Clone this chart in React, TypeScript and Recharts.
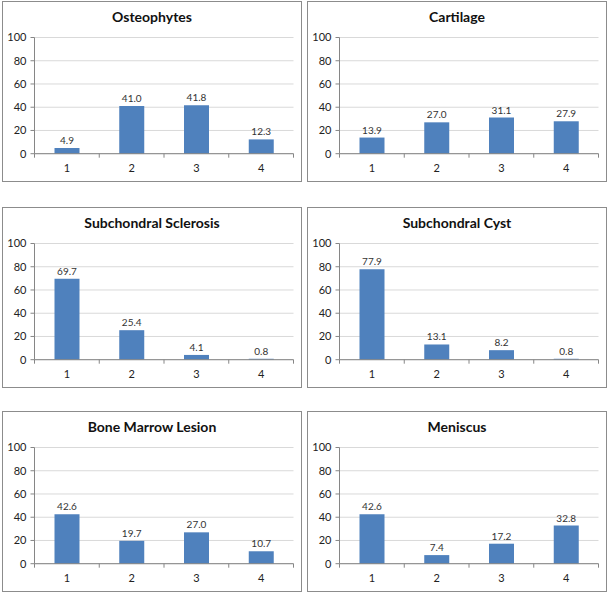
import React from 'react';
import { BarChart, Bar, XAxis, YAxis, CartesianGrid, LabelList } from 'recharts';

const categories = ['1', '2', '3', '4'];
const yTicks = [0, 20, 40, 60, 80, 100];

const osteophytes = [4.9, 41.0, 41.8, 12.3];
const cartilage = [13.9, 27.0, 31.1, 27.9];
const subchondralSclerosis = [69.7, 25.4, 4.1, 0.8];
const subchondralCyst = [77.9, 13.1, 8.2, 0.8];
const boneMarrowLesion = [42.6, 19.7, 27.0, 10.7];
const meniscus = [42.6, 7.4, 17.2, 32.8];

const titles = ['Osteophytes', 'Cartilage', 'Subchondral Sclerosis', 'Subchondral Cyst', 'Bone Marrow Lesion', 'Meniscus'];
const seriesList = [osteophytes, cartilage, subchondralSclerosis, subchondralCyst, boneMarrowLesion, meniscus];

const PANEL_W = 300;
const PANEL_H = 181;
const colLeft = [2, 307];
const rowTop = [1, 207, 411];
const M_LEFT = 32.5;
const M_RIGHT = 8.5;
const M_TOP = 36.5;
const M_BOTTOM = 28.3;
const PLOT_W = PANEL_W - M_LEFT - M_RIGHT;
const BAND = PLOT_W / categories.length;
const FONT = 'Lato, "Open Sans", sans-serif';
const AXIS = '#868686';
const BAR = '#4f81bd';

const XTick = (props: any) => {
  const { x, y, payload, index } = props;
  const half = BAND / 2;
  return (
    <g>
      <line x1={x - half} x2={x - half} y1={y} y2={y + 4} stroke={AXIS} />
      {index === categories.length - 1 && (
        <line x1={x + half} x2={x + half} y1={y} y2={y + 4} stroke={AXIS} />
      )}
      <text x={x} y={y + 16} textAnchor="middle" dominantBaseline="middle" fontSize={11} fill="#222" fontFamily={FONT}>
        {payload.value}
      </text>
    </g>
  );
};

function Panel({ title, values, left, top }: { title: string; values: number[]; left: number; top: number }) {
  const data = categories.map((c, i) => ({ cat: c, value: values[i] }));
  return (
    <div
      style={{
        position: 'absolute',
        left,
        top,
        width: PANEL_W,
        height: PANEL_H,
        boxSizing: 'border-box',
        border: '1px solid #8c8c8c',
        background: '#fff',
      }}
    >
      <div style={{ position: 'absolute', left: -1, top: -1, width: PANEL_W, height: PANEL_H }}>
        <BarChart
          width={PANEL_W}
          height={PANEL_H}
          data={data}
          margin={{ top: M_TOP, right: M_RIGHT, bottom: 0, left: 0 }}
          barSize={25}
        >
          <CartesianGrid vertical={false} stroke="#d9d9d9" />
          <XAxis
            dataKey="cat"
            axisLine={{ stroke: AXIS }}
            tickLine={false}
            tickSize={0}
            tickMargin={0}
            height={M_BOTTOM}
            tick={<XTick />}
            interval={0}
          />
          <YAxis
            width={M_LEFT}
            domain={[0, 100]}
            ticks={yTicks}
            interval={0}
            axisLine={{ stroke: AXIS }}
            tickLine={{ stroke: AXIS }}
            tickSize={4}
            tickMargin={4}
            tick={{ fontSize: 11, fill: '#222', fontFamily: FONT }}
          />
          <Bar dataKey="value" fill={BAR} isAnimationActive={false}>
            <LabelList
              dataKey="value"
              position="top"
              offset={4}
              formatter={(v: any) => Number(v).toFixed(1)}
              style={{ fontSize: 10, fill: '#333', fontFamily: FONT }}
            />
          </Bar>
        </BarChart>
        <div
          style={{
            position: 'absolute',
            left: 0,
            top: 7,
            width: PANEL_W,
            textAlign: 'center',
            fontFamily: FONT,
            fontWeight: 'bold',
            fontSize: 14,
            lineHeight: '18px',
            color: '#111',
          }}
        >
          {title}
        </div>
      </div>
    </div>
  );
}

export default function App() {
  return (
    <div style={{ position: 'absolute', left: 0, top: 0, width: 610, height: 593, background: '#fff' }}>
      {titles.map((t, i) => (
        <Panel key={t} title={t} values={seriesList[i]} left={colLeft[i % 2]} top={rowTop[Math.floor(i / 2)]} />
      ))}
    </div>
  );
}
